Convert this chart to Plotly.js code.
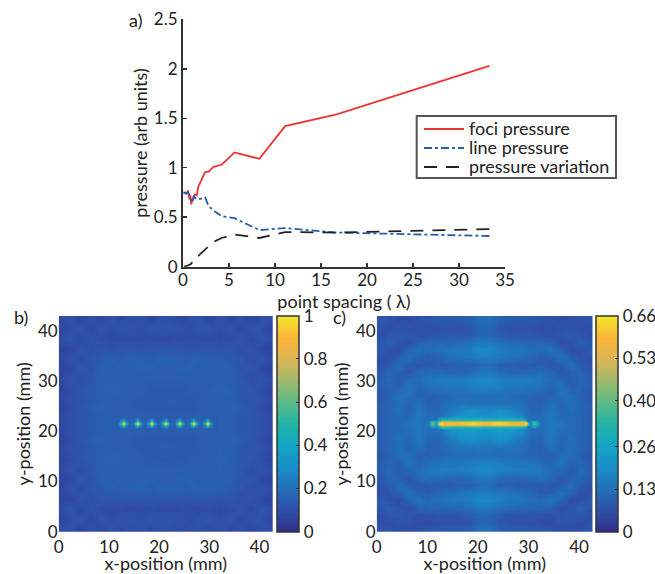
<!DOCTYPE html>
<html><head><meta charset="utf-8">
<script src="https://cdn.plot.ly/plotly-3.0.1.min.js"></script>
<style>html,body{margin:0;padding:0;background:#fff;overflow:hidden;width:655px;height:574px}</style></head>
<body><div id="chart" style="width:655px;height:574px;overflow:hidden"></div>
<script>
const fociX=[33.3,16.7,11.1,8.3,5.6,4.2,3.3,2.8,2.4,2.1,1.67,1.5,1.3,1.1,1.0,0.9,0.8,0.7,0.55,0.4,0.2,0.05];
const fociY=[2.03,1.54,1.42,1.09,1.155,1.03,1.01,0.96,0.955,0.9,0.81,0.72,0.73,0.70,0.67,0.63,0.72,0.68,0.77,0.74,0.75,0.75];
const lineX=[33.3,16.7,11.1,8.3,5.6,4.2,3.3,2.8,2.4,2.1,1.67,1.4,1.2,1.0,0.9,0.7,0.55,0.3,0.05];
const lineY=[0.31,0.345,0.39,0.37,0.49,0.51,0.57,0.61,0.70,0.69,0.68,0.69,0.71,0.65,0.66,0.72,0.75,0.74,0.75];
const varX=[33.3,16.7,11.1,8.3,5.6,4.2,3.3,2.8,2.4,1.67,1.4,1.2,0.9,0.5,0.1];
const varY=[0.38,0.345,0.35,0.29,0.325,0.29,0.25,0.21,0.17,0.11,0.10,0.08,0.03,0.01,0];
const seriesNames=['foci pressure','line pressure','pressure variation'];
const gridX=[0.35,2.35,4.35,6.35,8.35,10.35,12.35,14.35,16.35,18.35,20.35,22.35,24.35,26.35,28.35,30.35,32.35,34.35,36.35,38.35,40.35,42.35];
const gridYb=[0.5,2.5,4.5,6.5,8.5,10.5,12.5,14.5,16.5,18.5,20.5,22.5,24.5,26.5,28.5,30.5,32.5,34.5,36.5,38.5,40.5,42.5];
const gridYc=[0.25,1.75,3.25,4.75,6.25,7.75,9.25,10.75,12.25,13.75,15.25,16.75,18.25,19.75,21.25,22.75,24.25,25.75,27.25,28.75,30.25,31.75,33.25,34.75,36.25,37.75,39.25,40.75,42.25];
const bPct=[
[9,10,7,10,8,11,8,10,10,8,10,10,8,10,10,8,11,8,10,7,10,9],
[7,10,11,8,11,9,11,11,9,11,11,11,11,9,11,11,9,11,8,11,10,7],
[9,11,8,11,9,8,9,8,9,9,8,8,9,9,8,9,8,9,11,8,11,9],
[7,8,11,9,12,11,12,12,11,12,12,12,12,11,12,12,11,12,9,11,8,7],
[8,11,9,12,13,15,14,15,15,14,15,15,14,15,15,14,15,13,12,9,11,8],
[7,8,12,11,15,14,15,14,15,15,14,14,15,15,14,15,14,15,11,12,8,7],
[8,11,9,13,14,15,14,15,14,14,14,14,14,14,15,14,15,14,13,9,11,8],
[7,9,12,13,15,15,15,14,14,13,13,13,13,14,14,15,15,15,13,12,9,7],
[8,10,11,13,14,15,14,14,13,13,14,14,13,13,14,14,15,14,13,11,10,8],
[7,9,12,14,15,14,14,14,13,13,13,13,13,13,14,14,14,15,14,12,9,7],
[8,10,12,13,14,15,14,15,14,14,14,14,14,14,15,14,15,14,13,12,10,8],
[8,10,12,13,14,15,14,15,14,14,14,14,14,14,15,14,15,14,13,12,10,8],
[7,9,12,14,15,14,14,14,13,13,13,13,13,13,14,14,14,15,14,12,9,7],
[8,10,11,13,14,15,14,14,13,13,14,14,13,13,14,14,15,14,13,11,10,8],
[7,9,12,13,15,15,15,14,14,13,13,13,13,14,14,15,15,15,13,12,9,7],
[8,11,9,13,14,15,14,15,14,14,14,14,14,14,15,14,15,14,13,9,11,8],
[7,8,12,11,15,14,15,14,15,15,14,14,15,15,14,15,14,15,11,12,8,7],
[8,11,9,12,13,15,14,15,15,14,15,15,14,15,15,14,15,13,12,9,11,8],
[7,8,11,9,12,11,12,12,11,12,12,12,12,11,12,12,11,12,9,11,8,7],
[9,11,8,11,9,8,9,8,9,9,8,8,9,9,8,9,8,9,11,8,11,9],
[7,10,11,8,11,9,11,11,9,11,11,11,11,9,11,11,9,11,8,11,10,7],
[9,10,7,10,8,11,8,10,10,8,10,10,8,10,10,8,11,8,10,7,10,9]];
const cPct=[
[8,7,6,6,7,8,9,9,9,10,13,13,10,9,9,9,8,7,6,6,7,8],
[7,6,7,7,6,6,7,7,7,8,11,11,8,7,7,7,6,6,7,7,6,7],
[6,8,9,8,7,7,8,8,8,9,11,11,9,8,8,8,7,7,8,9,8,6],
[8,10,8,6,10,11,11,11,12,13,15,15,13,12,11,11,11,10,6,8,10,8],
[9,7,6,11,14,12,13,15,15,16,19,19,16,15,15,13,12,14,11,6,7,9],
[7,7,10,14,10,9,11,13,14,15,16,16,15,14,13,11,9,10,14,10,7,7],
[7,9,13,9,8,9,9,9,10,10,12,12,10,10,9,9,9,8,9,13,9,7],
[8,11,10,8,12,13,12,11,11,12,15,15,12,11,11,12,13,12,8,10,11,8],
[9,12,9,12,12,15,16,16,16,17,19,19,17,16,16,16,15,12,12,9,12,9],
[9,11,10,14,11,13,14,15,15,16,17,17,16,15,15,14,13,11,14,10,11,9],
[8,10,13,13,10,10,11,12,12,13,13,13,13,12,12,11,10,10,13,13,10,8],
[9,11,13,11,13,10,11,13,14,13,14,14,13,14,13,11,10,13,11,13,11,9],
[9,11,13,11,15,11,11,15,18,20,18,18,20,18,15,11,11,15,11,13,11,9],
[9,11,12,12,15,12,13,19,22,23,21,21,23,22,19,13,12,15,12,12,11,9],
[9,11,12,14,15,13,13,22,26,26,24,24,26,26,22,13,13,15,14,12,11,9],
[9,11,12,12,15,12,13,19,22,23,21,21,23,22,19,13,12,15,12,12,11,9],
[9,11,13,11,15,11,11,15,18,20,18,18,20,18,15,11,11,15,11,13,11,9],
[9,11,13,11,13,10,11,13,14,13,14,14,13,14,13,11,10,13,11,13,11,9],
[8,10,13,13,10,10,11,12,12,13,13,13,13,12,12,11,10,10,13,13,10,8],
[9,11,10,14,11,13,14,15,15,16,17,17,16,15,15,14,13,11,14,10,11,9],
[9,12,9,12,12,15,16,16,16,17,19,19,17,16,16,16,15,12,12,9,12,9],
[8,11,10,8,12,13,12,11,11,12,15,15,12,11,11,12,13,12,8,10,11,8],
[7,9,13,9,8,9,9,9,10,10,12,12,10,10,9,9,9,8,9,13,9,7],
[7,7,10,14,10,9,11,13,14,15,16,16,15,14,13,11,9,10,14,10,7,7],
[9,7,6,11,14,12,13,15,15,16,19,19,16,15,15,13,12,14,11,6,7,9],
[8,10,8,6,10,11,11,11,12,13,15,15,13,12,11,11,11,10,6,8,10,8],
[6,8,9,8,7,7,8,8,8,9,11,11,9,8,8,8,7,7,8,9,8,6],
[7,6,7,7,6,6,7,7,7,8,11,11,8,7,7,7,6,6,7,7,6,7],
[8,7,6,6,7,8,9,9,9,10,13,13,10,9,9,9,8,7,6,6,7,8]];
const n=null;
const fociStripX=[11.7,12.1,12.5,12.9,13.3,13.7,14.1,14.5,14.9,15.3,15.7,16.1,16.5,16.9,17.3,17.7,18.1,18.5,18.9,19.3,19.7,20.1,20.5,20.9,21.3,21.7,22.1,22.5,22.9,23.3,23.7,24.1,24.5,24.9,25.3,25.7,26.1,26.5,26.9,27.3,27.7,28.1,28.5,28.9,29.3,29.7,30.1,30.5,30.9];
const fociStripY=[20.8,21.2,21.6,22.0,22.4];
const fociEdge=[n,n,.2,.3,.2,n,n,n,n,.2,.3,.2,n,n,n,n,.2,.3,.2,n,n,n,n,.2,.3,.2,n,n,n,n,.2,.3,.2,n,n,n,n,.2,.3,.2,n,n,n,n,.2,.3,.2,n,n];
const fociMid=[n,.2,.35,.62,.35,.2,n,n,.2,.35,.62,.35,.2,n,n,.2,.35,.62,.35,.2,n,n,.2,.35,.62,.35,.2,n,n,.2,.35,.62,.35,.2,n,n,.2,.35,.62,.35,.2,n,n,.2,.35,.62,.35,.2,n];
const fociPeak=[.18,.3,.62,1,.62,.3,.18,.18,.3,.62,1,.62,.3,.18,.18,.3,.62,1,.62,.3,.18,.18,.3,.62,1,.62,.3,.18,.18,.3,.62,1,.62,.3,.18,.18,.3,.62,1,.62,.3,.18,.18,.3,.62,1,.62,.3,.18];
const lineStripX=[10,10.4,10.8,11.2,11.6,12,12.4,12.8,13.4,16,19,21.3,24,27,28.6,29.2,29.6,30,30.4,30.7,31.1,31.5,31.9,32.3];
const lineStripY=[20.6,21.0,21.4,21.8,22.2,22.6];
const lineEdge=[n,n,n,n,n,n,.22,.24,.25,.25,.26,.25,.26,.25,.24,.2,n,n,n,n,n,n,n,n];
const lineHalo=[n,.15,.22,.24,.17,.2,.32,.4,.38,.36,.38,.36,.38,.36,.36,.33,.22,n,.15,.2,.24,.2,.15,n];
const lineCore=[.15,.24,.38,.42,.24,.35,.62,.64,.6,.6,.63,.6,.63,.6,.6,.62,.62,.28,.2,.3,.42,.3,.2,.15];
const colorScale=[[0,'#2f2e8a'],[0.1,'#2f50a8'],[0.2,'#2270b8'],[0.3,'#1a8ec8'],[0.4,'#12a6c4'],[0.5,'#22b4a6'],[0.6,'#5cbb85'],[0.7,'#a0b96c'],[0.8,'#dcb455'],[0.9,'#fbb436'],[1,'#f2e92d']];
const yTicksA=[0,0.5,1,1.5,2,2.5], yTextA=['0','0.5','1','1.5','2','2.5'];
const xTicksA=[0,5,10,15,20,25,30,35];
const posTicks=[0,10,20,30,40];
const cbTicksB=[0,.2,.4,.6,.8,1], cbTextB=['0','0.2','0.4','0.6','0.8','1'];
const cbTicksC=[0,.13,.26,.40,.53,.66], cbTextC=['0','0.13','0.26','0.40','0.53','0.66'];

// the canvas is wider than the window so colorbar labels never push the margins
const W=755,H=574,TC='#222';
const font={family:'Lato,"Noto Sans",sans-serif',size:18,color:TC};
const tickFont={family:'Lato,"Noto Sans",sans-serif',size:17,color:TC};
const hor=(a,b)=>[a/W,b/W], ver=(t,b)=>[1-b/H,1-t/H];
const pct=m=>m.map(r=>r.map(v=>v/100));
function cbar(x,vals,text){return {x:x/W,xanchor:'left',y:1-531.7/H,yanchor:'bottom',len:215.7,lenmode:'pixels',thickness:22,thicknessmode:'pixels',xpad:0,ypad:0,outlinecolor:'#333',outlinewidth:1.5,tickmode:'array',tickvals:vals,ticktext:text,ticks:'inside',ticklen:3,tickcolor:'#222',tickwidth:1,tickfont:tickFont,ticklabelposition:'outside'};}
const redLine={color:'#ee3333',width:1.8}, blueLine={color:'#2a5cb0',width:1.8,dash:'8px,3px,3px,3px'}, blackLine={color:'#222',width:1.8,dash:'13px,9px'};
const traces=[
 {type:'scatter',mode:'lines',x:fociX,y:fociY,name:seriesNames[0],line:redLine,xaxis:'x',yaxis:'y',showlegend:false},
 {type:'scatter',mode:'lines',x:lineX,y:lineY,name:seriesNames[1],line:blueLine,xaxis:'x',yaxis:'y',showlegend:false},
 {type:'scatter',mode:'lines',x:varX,y:varY,name:seriesNames[2],line:blackLine,xaxis:'x',yaxis:'y',showlegend:false},
 {type:'heatmap',x:gridX,y:gridYb,z:pct(bPct),zmin:0,zmax:1,zsmooth:'best',colorscale:colorScale,colorbar:cbar(277,cbTicksB,cbTextB),xaxis:'x2',yaxis:'y2'},
 {type:'heatmap',x:fociStripX,y:fociStripY,z:[fociEdge,fociMid,fociPeak,fociMid,fociEdge],zmin:0,zmax:1,zsmooth:'best',colorscale:colorScale,showscale:false,xaxis:'x2',yaxis:'y2'},
 {type:'heatmap',x:gridX,y:gridYc,z:pct(cPct),zmin:0,zmax:.66,zsmooth:'best',colorscale:colorScale,colorbar:cbar(595.7,cbTicksC,cbTextC),xaxis:'x3',yaxis:'y3'},
 {type:'heatmap',x:lineStripX,y:lineStripY,z:[lineEdge,lineHalo,lineCore,lineCore,lineHalo,lineEdge],zmin:0,zmax:.66,zsmooth:'best',colorscale:colorScale,showscale:false,xaxis:'x3',yaxis:'y3'}
];
function heatX(d){return {domain:d,range:[0,42.7],tickvals:posTicks,ticks:'',showgrid:false,zeroline:false,showline:false,tickfont:tickFont,ticklabelstandoff:3,title:{text:'x-position (mm)',font:font,standoff:0}};}
function heatY(d){return {domain:d,range:[0,43],tickvals:posTicks,ticks:'',showgrid:false,zeroline:false,showline:false,tickfont:tickFont,title:{text:'y-position (mm)',font:font,standoff:2}};}
const legendRows=[129,148,167], legendStyles=[redLine,blueLine,blackLine];
const shapes=[{type:'rect',xref:'paper',yref:'paper',x0:416.7/W,x1:616/W,y0:1-116/H,y1:1-178/H,line:{color:'#555',width:2},fillcolor:'#fff',layer:'above'}];
legendRows.forEach((r,i)=>shapes.push({type:'line',xref:'paper',yref:'paper',x0:424/W,x1:464/W,y0:1-r/H,y1:1-r/H,line:legendStyles[i],layer:'above'}));
const legendNotes=seriesNames.map((t,i)=>({text:t,x:467/W,y:1-(legendRows[i]-1)/H,xref:'paper',yref:'paper',xanchor:'left',yanchor:'middle',showarrow:false,font:font}));
const layout={width:W,height:H,autosize:false,showlegend:false,margin:{l:0,r:0,t:0,b:0,pad:0},paper_bgcolor:'#fff',plot_bgcolor:'#fff',font:font,
 xaxis:{domain:hor(183,505),range:[0,35],tickvals:xTicksA,ticks:'inside',ticklen:4,tickwidth:1.5,tickcolor:'#333',showgrid:false,zeroline:false,showline:true,linecolor:'#333',linewidth:2,tickfont:tickFont,ticklabelstandoff:-3,title:{text:'point spacing ( λ)',font:font,standoff:0},anchor:'y'},
 yaxis:{domain:ver(19.3,266.7),range:[0,2.5],tickvals:yTicksA,ticktext:yTextA,ticks:'inside',ticklen:4,tickwidth:1.5,tickcolor:'#333',showgrid:false,zeroline:false,showline:true,linecolor:'#333',linewidth:2,tickfont:tickFont,title:{text:'pressure (arb units)',font:font,standoff:2},anchor:'x'},
 xaxis2:Object.assign(heatX(hor(58.7,273)),{anchor:'y2'}),yaxis2:Object.assign(heatY(ver(316,531.7)),{anchor:'x2'}),
 xaxis3:Object.assign(heatX(hor(376.7,592.7)),{anchor:'y3'}),yaxis3:Object.assign(heatY(ver(316,531.7)),{anchor:'x3'}),
 shapes:shapes,
 annotations:[
  {text:'a)',x:127/W,y:1-20/H,xref:'paper',yref:'paper',xanchor:'left',yanchor:'middle',showarrow:false,font:font},
  {text:'b)',x:12/W,y:1-317/H,xref:'paper',yref:'paper',xanchor:'left',yanchor:'middle',showarrow:false,font:font},
  {text:'c)',x:331/W,y:1-317/H,xref:'paper',yref:'paper',xanchor:'left',yanchor:'middle',showarrow:false,font:font}].concat(legendNotes)
};
Plotly.newPlot('chart',traces,layout,{displayModeBar:false,staticPlot:true});
</script></body></html>
